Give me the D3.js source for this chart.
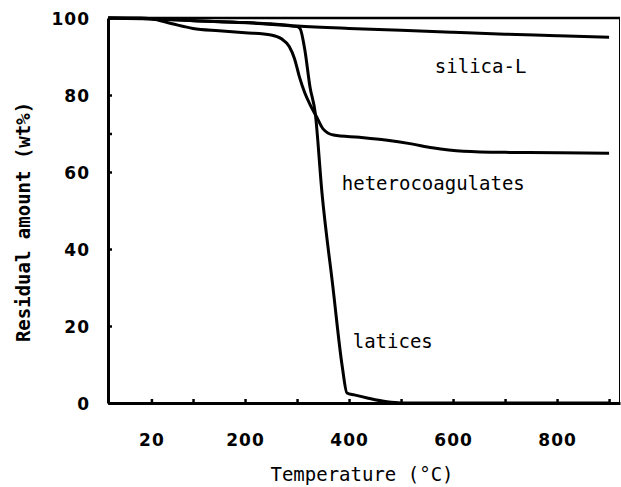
<!DOCTYPE html>
<html><head><meta charset="utf-8">
<script src="https://cdn.jsdelivr.net/npm/d3@7"></script>
<style>
body{margin:0;background:#fff;}
svg{display:block;}
</style></head>
<body>
<svg id="c" width="621" height="487"></svg>
<script>
// ---- data ----
const xTickValues = [20, 100, 200, 300, 400, 500, 600, 700, 800, 900];
const xTickLabels = [20, 200, 400, 600, 800];
const yTickValues = [0, 20, 40, 60, 70, 80, 100];
const yTickLabels = [0, 20, 40, 60, 80, 100];

const silicaT = [-63, 20, 100, 200, 300, 400, 500, 600, 700, 800, 900];
const silicaW = [100, 99.8, 99.3, 98.8, 97.9, 97.3, 96.8, 96.3, 95.8, 95.4, 95.0];

const heteroT = [-63, 0, 20, 60, 100, 150, 200, 250, 270, 285, 295, 305, 315, 325, 338, 350, 370, 420, 470, 520, 560, 620, 700, 800, 900];
const heteroW = [100, 100, 99.8, 98.5, 97.3, 96.7, 96.2, 95.6, 94.6, 92.6, 89.5, 84.5, 80.5, 77.5, 74.2, 71.2, 69.6, 69.0, 68.3, 67.3, 66.3, 65.4, 65.1, 65.0, 64.9];

const laticeT = [-63, 50, 150, 250, 300, 306, 315, 325, 335, 348, 369, 387, 396, 410, 435, 473, 500, 900];
const laticeW = [100, 99.6, 99.0, 98.5, 97.8, 97.2, 91.7, 82.0, 75.3, 54.5, 30.1, 9.4, 2.6, 2.1, 1.3, 0.3, 0, 0];

const labels = [
  {text: "silica-L", t: 565, w: 85.7},
  {text: "heterocoagulates", t: 386, w: 55.3},
  {text: "latices", t: 407, w: 14.3}
];

// ---- chart ----
const svg = d3.select("#c");
const x = d3.scaleLinear().domain([-63.5, 921]).range([108, 620]);
const y = d3.scaleLinear().domain([0, 100]).range([403, 18]);

// frame: top & right borders
svg.append("line").attr("x1", x(-63.5)).attr("x2", x(921)).attr("y1", y(100)).attr("y2", y(100))
  .attr("stroke", "#000").attr("stroke-width", 2.5);
svg.append("line").attr("x1", x(921) - 0.5).attr("x2", x(921) - 0.5).attr("y1", y(100)).attr("y2", y(0))
  .attr("stroke", "#000").attr("stroke-width", 1);

// axes
const xAxis = d3.axisBottom(x).tickValues(xTickValues).tickSizeInner(-4).tickSizeOuter(0)
  .tickPadding(31).tickFormat(d => xTickLabels.includes(d) ? d : "");
const gx = svg.append("g").attr("transform", `translate(0,${y(0)})`).call(xAxis);
gx.select(".domain").attr("stroke-width", 3);
gx.selectAll(".tick line").attr("stroke-width", 2.5);
gx.selectAll("text").attr("font-family", "DejaVu Sans").attr("font-weight", "bold")
  .attr("font-size", 17).attr("letter-spacing", 1).attr("fill", "#000");

const yAxis = d3.axisLeft(y).tickValues(yTickValues).tickSizeInner(-4).tickSizeOuter(0)
  .tickPadding(18).tickFormat(d => yTickLabels.includes(d) ? d : "");
const gy = svg.append("g").attr("transform", `translate(${x(-63.5)},0)`).call(yAxis);
gy.select(".domain").attr("stroke-width", 3);
gy.selectAll(".tick line").attr("stroke-width", 2.5);
gy.selectAll("text").attr("font-family", "DejaVu Sans").attr("font-weight", "bold")
  .attr("font-size", 17).attr("letter-spacing", 1).attr("fill", "#000").attr("dy", "0.36em");

// curves
const line = d3.line().x(d => x(d[0])).y(d => y(d[1])).curve(d3.curveMonotoneX);
const series = [
  d3.zip(silicaT, silicaW),
  d3.zip(heteroT, heteroW),
  d3.zip(laticeT, laticeW)
];
svg.append("g").selectAll("path").data(series).join("path")
  .attr("d", line).attr("fill", "none").attr("stroke", "#000")
  .attr("stroke-width", 3).attr("stroke-linejoin", "round");

// curve labels
svg.append("g").selectAll("text").data(labels).join("text")
  .attr("x", d => x(d.t)).attr("y", d => y(d.w))
  .attr("font-family", "DejaVu Sans Mono").attr("font-size", 19)
  .attr("fill", "#000").text(d => d.text);

// axis titles
svg.append("text").attr("x", 362).attr("y", 481).attr("text-anchor", "middle")
  .attr("font-family", "DejaVu Sans Mono").attr("font-size", 19).attr("fill", "#000")
  .text("Temperature (°C)");
svg.append("text").attr("transform", "translate(30,222) rotate(-90)").attr("text-anchor", "middle")
  .attr("font-family", "DejaVu Sans Mono").attr("font-weight", "bold").attr("font-size", 19)
  .attr("fill", "#000").text("Residual amount (wt%)");
</script>
</body></html>
